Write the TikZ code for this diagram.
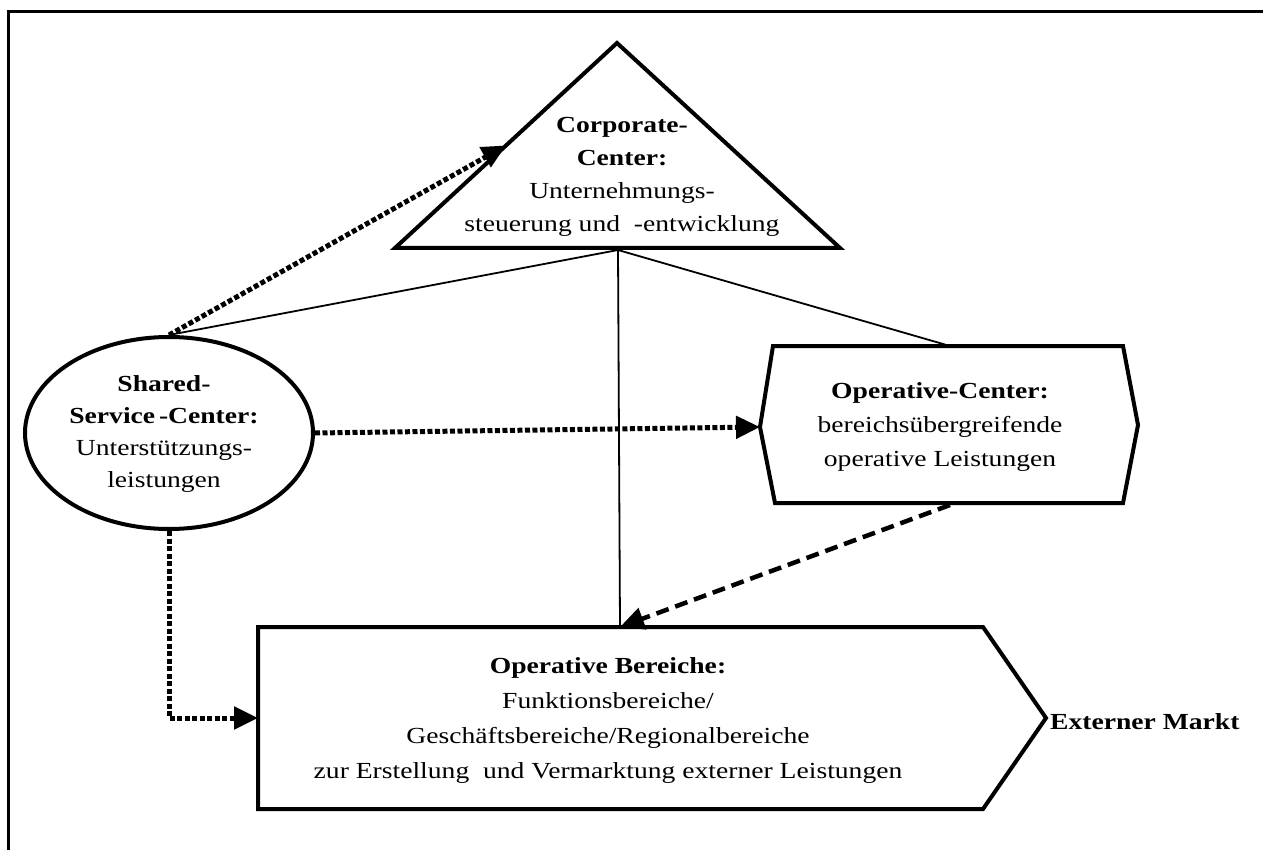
\documentclass[tikz,border=0pt]{standalone}
\usepackage{fontspec}
\setmainfont[FakeStretch=1.2]{Liberation Serif}
\usetikzlibrary{arrows.meta,shapes.geometric,calc}
\begin{document}
\begin{tikzpicture}[x=1pt,y=-1pt,
  shapeline/.style={line width=4pt, line join=miter},
  link/.style={line width=1.8pt},
  dotarrow/.style={line width=5pt, dash pattern=on 5pt off 2.5pt, -{Triangle[length=24pt,width=22pt]}},
  dasharrow/.style={line width=4.5pt, dash pattern=on 13pt off 7pt, -{Triangle[length=24pt,width=22pt]}},
  txt/.style={align=center, inner sep=0pt, font=\fontsize{23}{34}\selectfont},
]
\useasboundingbox (0,0) rectangle (1263,850);
% frame (top and left edges)
\draw[line width=3pt] (8,850) -- (8,12) -- (1263,12);

% Corporate-Center triangle
\coordinate (ccApex) at (617,43);
\coordinate (ccL) at (395,248);
\coordinate (ccR) at (840,248);
\coordinate (ccB) at (618,250);
\coordinate (ccIn) at ($(ccL)!0.5!(ccApex)$);
\draw[shapeline] (ccApex) -- (ccR) -- (ccL) -- cycle;
\node[txt, font=\fontsize{23}{33}\selectfont] (cct) at (622,177)
  {\textbf{Corporate-}\\\textbf{Center:}\\Unternehmungs-\\steuerung und~ -entwicklung};

% Shared-Service-Center ellipse
\node[draw, ellipse, shapeline, minimum width=288pt, minimum height=192pt] (ssc) at (169,433) {};
\node[txt, font=\fontsize{23}{32}\selectfont] (ssct) at (164,434)
  {\textbf{Shared-}\\\textbf{Service\,-Center:}\\Unterstützungs-\\leistungen};

% Operative-Center hexagon
\coordinate (ocW) at (760,427);
\coordinate (ocNW) at (773,346);
\coordinate (ocNE) at (1123,346);
\coordinate (ocE) at (1138,425);
\coordinate (ocSE) at (1123,503);
\coordinate (ocSW) at (775,503);
\coordinate (ocN) at (950,346);
\coordinate (ocS) at (950,505);
\draw[shapeline] (ocW) -- (ocNW) -- (ocNE) -- (ocE) -- (ocSE) -- (ocSW) -- cycle;
\node[txt] (oct) at (940,427)
  {\textbf{Operative-Center:}\\bereichsübergreifende\\operative Leistungen};

% Operative Bereiche pentagon
\coordinate (obNW) at (258,627);
\coordinate (obNE) at (983,627);
\coordinate (obE) at (1046,718);
\coordinate (obSE) at (983,809);
\coordinate (obSW) at (258,809);
\coordinate (obW) at (258,718);
\coordinate (obN) at (620,627);
\draw[shapeline] (obNW) -- (obNE) -- (obE) -- (obSE) -- (obSW) -- cycle;
\node[txt, font=\fontsize{23}{35}\selectfont] (obt) at (608,720)
  {\textbf{Operative Bereiche:}\\Funktionsbereiche/\\Geschäftsbereiche/Regionalbereiche\\zur Erstellung~ und Vermarktung externer Leistungen};

\node[txt, anchor=west, font=\fontsize{23}{34}\selectfont\bfseries] (mkt) at (1050,722) {Externer Markt};

% structure lines
\draw[link] (ccB) -- (ssc.north);
\draw[link] (ccB) -- (ocN);
\draw[link] (ccB) -- (obN);

% service flows
\draw[dotarrow] (ssc.north) -- (ccIn);
\draw[dotarrow] (ssc.east) -- (ocW);
\draw[dotarrow] (ssc.south) |- (obW);
\draw[dasharrow] (ocS) -- (obN);
\end{tikzpicture}
\end{document}
